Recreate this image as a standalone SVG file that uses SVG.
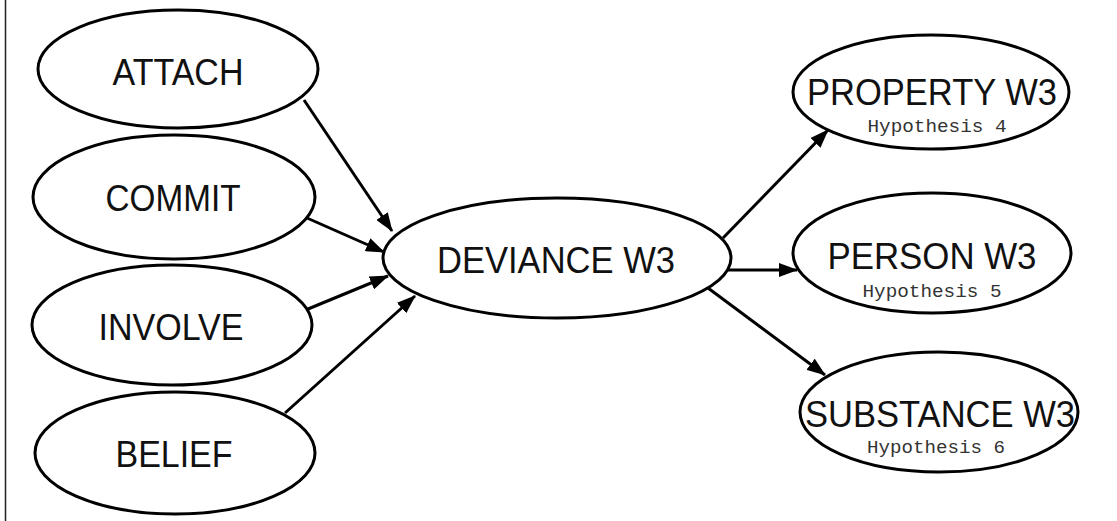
<svg xmlns="http://www.w3.org/2000/svg" width="1117" height="521" viewBox="0 0 1117 521">
  <style>
    .node ellipse { fill: #ffffff; stroke: #000000; stroke-width: 3; }
    .label { font-family: "Liberation Sans", Arial, sans-serif; font-size: 37px; fill: #111111; text-anchor: middle; }
    .note { font-family: "Liberation Mono", "Courier New", monospace; font-size: 18px; fill: #333333; text-anchor: middle; }
    .edge { stroke: #000000; stroke-width: 3; fill: none; marker-end: url(#arrow); }
  </style>
  <defs>
    <marker id="arrow" markerUnits="userSpaceOnUse" markerWidth="20" markerHeight="14" refX="18" refY="7" orient="auto">
      <path d="M0,0 L19,7 L0,14 z" fill="#000000"/>
    </marker>
  </defs>

  <rect x="0" y="0" width="1117" height="521" fill="#ffffff"/>
  <!-- left frame rule -->
  <line x1="5.5" y1="0" x2="5.5" y2="521" stroke="#222222" stroke-width="1.5"/>

  <g id="connectors">
    <line class="edge" x1="304" y1="100" x2="392" y2="231"/>
    <line class="edge" x1="307" y1="218" x2="384" y2="252"/>
    <line class="edge" x1="308" y1="309" x2="388" y2="276"/>
    <line class="edge" x1="285" y1="413" x2="415" y2="296"/>
    <line class="edge" x1="723" y1="238" x2="828" y2="130"/>
    <line class="edge" x1="728" y1="270" x2="797" y2="270"/>
    <line class="edge" x1="708" y1="288" x2="825" y2="375"/>
  </g>

  <g id="attach" class="node">
    <ellipse cx="178" cy="69" rx="140" ry="59"/>
    <text class="label" x="178" y="85" textLength="131" lengthAdjust="spacingAndGlyphs">ATTACH</text>
  </g>
  <g id="commit" class="node">
    <ellipse cx="174" cy="197" rx="141" ry="62"/>
    <text class="label" x="173" y="211" textLength="135" lengthAdjust="spacingAndGlyphs">COMMIT</text>
  </g>
  <g id="involve" class="node">
    <ellipse cx="172" cy="325" rx="140" ry="60"/>
    <text class="label" x="171" y="340" textLength="145" lengthAdjust="spacingAndGlyphs">INVOLVE</text>
  </g>
  <g id="belief" class="node">
    <ellipse cx="175" cy="453" rx="140" ry="61"/>
    <text class="label" x="174" y="467" textLength="117" lengthAdjust="spacingAndGlyphs">BELIEF</text>
  </g>

  <g id="deviance" class="node">
    <ellipse cx="557" cy="258" rx="174" ry="60"/>
    <text class="label" x="556" y="273" textLength="238" lengthAdjust="spacingAndGlyphs">DEVIANCE W3</text>
  </g>

  <g id="property" class="node">
    <ellipse cx="931" cy="92" rx="138" ry="57"/>
    <text class="label" x="932" y="105" textLength="250" lengthAdjust="spacingAndGlyphs">PROPERTY W3</text>
    <text class="note" x="937" y="132" textLength="139" lengthAdjust="spacingAndGlyphs">Hypothesis 4</text>
  </g>
  <g id="person" class="node">
    <ellipse cx="932" cy="253" rx="139" ry="60"/>
    <text class="label" x="932" y="269" textLength="209" lengthAdjust="spacingAndGlyphs">PERSON W3</text>
    <text class="note" x="932" y="297" textLength="139" lengthAdjust="spacingAndGlyphs">Hypothesis 5</text>
  </g>
  <g id="substance" class="node">
    <ellipse cx="939" cy="412" rx="139" ry="60"/>
    <text class="label" x="940" y="427" textLength="270" lengthAdjust="spacingAndGlyphs">SUBSTANCE W3</text>
    <text class="note" x="936" y="453" textLength="138" lengthAdjust="spacingAndGlyphs">Hypothesis 6</text>
  </g>
</svg>
